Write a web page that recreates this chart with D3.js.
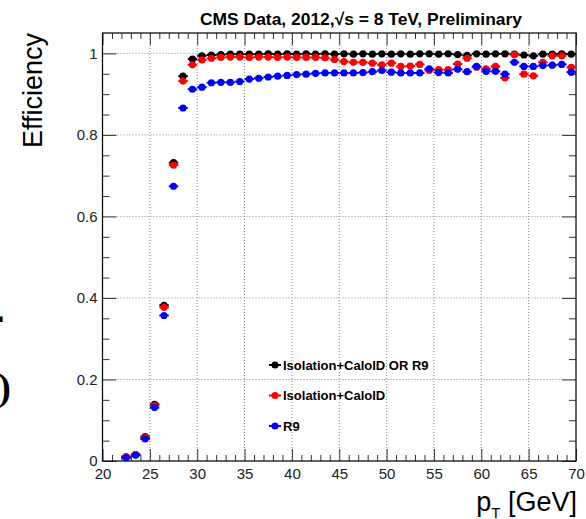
<!DOCTYPE html>
<meta charset="utf-8">
<style>
    body { margin: 0; background: #fff; }
    text { font-family: "Liberation Sans", Arial, sans-serif; }
    .grid line { stroke: #8a8a8a; stroke-width: 1px; stroke-dasharray: 1,2; }
    .axis path { display: none; }
    .axis line { stroke: #333; }
    .axis text { font-size: 15px; fill: #222; }
</style>

<svg width="586" height="519"></svg>
<script src="https://cdn.jsdelivr.net/npm/d3@7/dist/d3.min.js"></script>

<script>
    // pT bin centres (1 GeV bins)
    var ptBins = [22.5, 23.5, 24.5, 25.5, 26.5, 27.5, 28.5, 29.5, 30.5, 31.5, 32.5, 33.5,
        34.5, 35.5, 36.5, 37.5, 38.5, 39.5, 40.5, 41.5, 42.5, 43.5, 44.5, 45.5,
        46.5, 47.5, 48.5, 49.5, 50.5, 51.5, 52.5, 53.5, 54.5, 55.5, 56.5, 57.5,
        58.5, 59.5, 60.5, 61.5, 62.5, 63.5, 64.5, 65.5, 66.5, 67.5, 68.5, 69.5];

    // Isolation+CaloID OR R9
    var effOr = [0.010, 0.016, 0.060, 0.139, 0.382, 0.732, 0.944, 0.986, 0.994, 0.996, 0.997, 0.998,
        0.998, 0.998, 0.998, 0.999, 0.998, 0.999, 0.998, 0.999, 0.998, 0.999, 0.998, 0.999,
        0.998, 0.999, 0.998, 0.999, 0.998, 0.999, 0.998, 0.999, 0.999, 0.998, 0.999, 0.997,
        0.995, 0.999, 0.998, 0.999, 0.999, 0.998, 0.996, 0.994, 0.998, 0.998, 0.999, 0.998];

    // Isolation+CaloID
    var effIso = [0.010, 0.016, 0.058, 0.136, 0.377, 0.726, 0.932, 0.972, 0.984, 0.988, 0.990, 0.991,
        0.991, 0.990, 0.991, 0.991, 0.990, 0.991, 0.990, 0.990, 0.990, 0.989, 0.985, 0.980,
        0.978, 0.978, 0.976, 0.972, 0.976, 0.968, 0.969, 0.973, 0.958, 0.960, 0.960, 0.974,
        0.988, 0.966, 0.962, 0.968, 0.940, 0.997, 0.949, 0.945, 0.978, 0.994, 0.994, 0.966];

    // R9
    var effR9 = [0.008, 0.014, 0.054, 0.131, 0.357, 0.674, 0.866, 0.912, 0.917, 0.928, 0.929, 0.929,
        0.931, 0.937, 0.939, 0.942, 0.944, 0.946, 0.948, 0.949, 0.951, 0.952, 0.952, 0.952,
        0.952, 0.953, 0.955, 0.958, 0.954, 0.952, 0.952, 0.952, 0.962, 0.953, 0.952, 0.961,
        0.955, 0.968, 0.956, 0.956, 0.949, 0.978, 0.968, 0.968, 0.970, 0.971, 0.973, 0.954];

    var legendLabels = ["Isolation+CaloID OR R9", "Isolation+CaloID", "R9"];
    var seriesColors = ["#000000", "#ff0000", "#0000ff"];

    var xMajor = [20, 25, 30, 35, 40, 45, 50, 55, 60, 65, 70];
    var yMajor = [0, 0.2, 0.4, 0.6, 0.8, 1];
    var yLabels = ["0", "0.2", "0.4", "0.6", "0.8", "1"];

    var svg = d3.select("svg"),
            margin = {top: 33, right: 10, bottom: 58, left: 102.5},
            width = +svg.attr("width") - margin.left - margin.right,
            height = +svg.attr("height") - margin.top - margin.bottom;

    var x = d3.scaleLinear().domain([20, 70]).range([0, width]),
            y = d3.scaleLinear().domain([0, 1.05]).range([height, 0]);

    var g = svg.append("g")
            .attr("transform", "translate(" + margin.left + "," + margin.top + ")");

    // dotted grid
    var grid = g.append("g").attr("class", "grid");
    grid.selectAll(".gx")
            .data(xMajor.slice(1, -1))
            .enter().append("line")
            .attr("x1", function(d) { return x(d); })
            .attr("x2", function(d) { return x(d); })
            .attr("y1", 0).attr("y2", height);
    grid.selectAll(".gy")
            .data(yMajor.slice(1))
            .enter().append("line")
            .attr("y1", function(d) { return y(d); })
            .attr("y2", function(d) { return y(d); })
            .attr("x1", 0).attr("x2", width);

    var xMinor = d3.range(20, 71).filter(function(d) { return d % 5; }),
            yMinor = d3.range(0, 21).map(function(d) { return d * 0.05; })
                    .filter(function(d, i) { return i % 4; });

    // ticks inside the frame, ROOT style
    g.append("g").attr("class", "axis")
            .attr("transform", "translate(0," + height + ")")
            .call(d3.axisBottom(x).tickValues(xMajor).tickSize(-12).tickPadding(7).tickFormat(d3.format("d")));
    g.append("g").attr("class", "axis")
            .attr("transform", "translate(0," + height + ")")
            .call(d3.axisBottom(x).tickValues(xMinor).tickSize(-6).tickFormat(""));
    g.append("g").attr("class", "axis")
            .call(d3.axisTop(x).tickValues(xMajor).tickSize(-12).tickFormat(""));
    g.append("g").attr("class", "axis")
            .call(d3.axisTop(x).tickValues(xMinor).tickSize(-6).tickFormat(""));

    g.append("g").attr("class", "axis")
            .call(d3.axisLeft(y).tickValues(yMajor).tickSize(-14).tickPadding(5)
                    .tickFormat(function(d, i) { return yLabels[i]; }));
    g.append("g").attr("class", "axis")
            .call(d3.axisLeft(y).tickValues(yMinor).tickSize(-7).tickFormat(""));
    g.append("g").attr("class", "axis")
            .attr("transform", "translate(" + width + ",0)")
            .call(d3.axisRight(y).tickValues(yMajor).tickSize(-14).tickFormat(""));
    g.append("g").attr("class", "axis")
            .attr("transform", "translate(" + width + ",0)")
            .call(d3.axisRight(y).tickValues(yMinor).tickSize(-7).tickFormat(""));

    g.append("rect")
            .attr("width", width).attr("height", height)
            .attr("fill", "none").attr("stroke", "#111").attr("stroke-width", 1.3);

    // points: marker + x error bar (+-0.5 GeV)
    var series = [effOr, effIso, effR9];
    series.forEach(function(vals, s) {
        var pts = g.append("g").selectAll("g")
                .data(ptBins.map(function(pt, i) { return {pt: pt, v: vals[i]}; }))
                .enter().append("g")
                .attr("transform", function(d) { return "translate(" + x(d.pt) + "," + y(d.v) + ")"; });
        pts.append("line")
                .attr("x1", x(20.5) - x(21)).attr("x2", x(21.5) - x(21))
                .attr("stroke", seriesColors[s]).attr("stroke-width", 2);
        pts.append("circle")
                .attr("r", 3.6)
                .attr("fill", seriesColors[s]);
    });

    // legend
    var legend = g.append("g").selectAll("g")
            .data(legendLabels)
            .enter().append("g")
            .attr("transform", function(d, i) { return "translate(" + (275 - margin.left) + "," + (365 + i * 30.5 - margin.top) + ")"; });
    legend.append("line")
            .attr("x1", -6).attr("x2", 6)
            .attr("stroke", function(d, i) { return seriesColors[i]; }).attr("stroke-width", 2);
    legend.append("circle")
            .attr("r", 3.5)
            .attr("fill", function(d, i) { return seriesColors[i]; });
    legend.append("text")
            .attr("x", 8).attr("dy", "0.36em")
            .style("font-size", "13px").style("font-weight", "bold")
            .text(function(d) { return d; });

    // title and axis titles
    svg.append("text")
            .attr("x", 361).attr("y", 25)
            .attr("text-anchor", "middle")
            .attr("textLength", 322).attr("lengthAdjust", "spacingAndGlyphs")
            .style("font-size", "17px").style("font-weight", "bold")
            .text("CMS Data, 2012,\u221As = 8 TeV, Preliminary");

    svg.append("text")
            .attr("transform", "translate(41.5,33) rotate(-90)")
            .attr("text-anchor", "end")
            .style("font-size", "27px")
            .text("Efficiency");

    var xt = svg.append("text")
            .attr("x", 577).attr("y", 511)
            .attr("text-anchor", "end")
            .style("font-size", "27px");
    xt.append("tspan").text("p");
    xt.append("tspan").attr("dy", 7).style("font-size", "15px").text("T");
    xt.append("tspan").attr("dy", -7).text(" [GeV]");

    // cropped remnants of the neighbouring figure at the left edge
    svg.append("text")
            .attr("x", -5).attr("y", 322)
            .style("font-size", "36px").style("font-weight", "bold")
            .text(".");
    svg.append("text")
            .attr("x", 11).attr("y", 400)
            .attr("text-anchor", "end")
            .style("font-size", "38px").style("font-weight", "bold")
            .style("font-family", "Liberation Serif, serif")
            .text("y)");
</script>
